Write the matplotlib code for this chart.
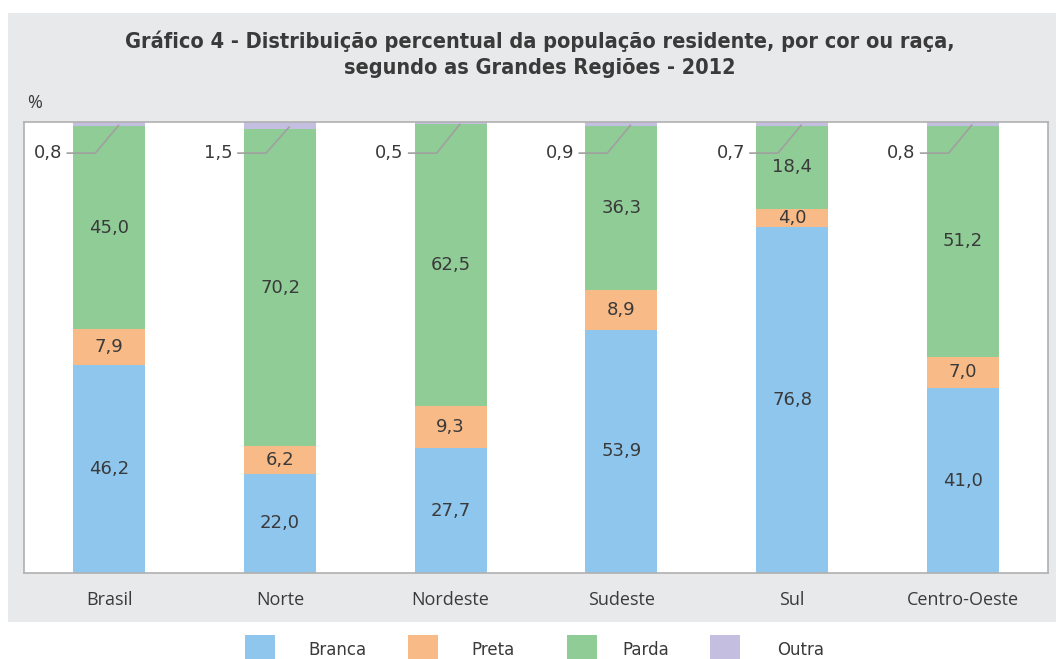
import matplotlib.pyplot as plt
from matplotlib.patches import Rectangle
import numpy as np

regioes = ["Brasil", "Norte", "Nordeste", "Sudeste", "Sul", "Centro-Oeste"]
branca = [46.2, 22.0, 27.7, 53.9, 76.8, 41.0]
preta = [7.9, 6.2, 9.3, 8.9, 4.0, 7.0]
parda = [45.0, 70.2, 62.5, 36.3, 18.4, 51.2]
outra = [0.8, 1.5, 0.5, 0.9, 0.7, 0.8]

series = ["Branca", "Preta", "Parda", "Outra"]
cores = ["#8fc6ee", "#f8ba86", "#8fcc96", "#c4bee0"]

titulo = ("Gráfico 4 - Distribuição percentual da população residente, por cor ou raça,\n"
          "segundo as Grandes Regiões - 2012")

texto = "#3a3a3a"
fundo = "#e8e9eb"

fig = plt.figure(figsize=(10.56, 6.59), dpi=100)
fig.patch.set_facecolor("white")

# gray panel behind title + plot
W, H = 1056, 659
fig.patches.append(Rectangle((8 / W, 1 - 622 / H), 1 - 8 / W, (622 - 13) / H,
                             transform=fig.transFigure, facecolor=fundo,
                             edgecolor="none", zorder=0))

ax = fig.add_axes([24 / W, 1 - 573 / H, (1048 - 24) / W, (573 - 122) / H])
ax.set_facecolor("white")
ax.set_zorder(1)

x = np.arange(len(regioes))
largura = 0.42
dados = [branca, preta, parda, outra]
base = np.zeros(len(regioes))
for nome, vals, cor in zip(series, dados, cores):
    vals = np.array(vals)
    ax.bar(x, vals, largura, bottom=base, color=cor, label=nome, zorder=2)
    if nome != "Outra":
        for xi, b, v in zip(x, base, vals):
            ax.text(xi, b + v / 2, f"{v:.1f}".replace(".", ","), ha="center",
                    va="center", fontsize=13, color=texto, family="DejaVu Sans",
                    zorder=4)
    base = base + vals

# leader lines for "Outra"
topo = base
for xi, t, v in zip(x, topo, outra):
    y_h = 93.1
    ax.plot([xi - 0.246, xi - 0.082, xi + 0.053], [y_h, y_h, t - v / 2 - 0.3],
            color="#a0a0a0", lw=1.2, zorder=3)
    ax.text(xi - 0.275, y_h, f"{v:.1f}".replace(".", ","), ha="right",
            va="center", fontsize=13, color=texto, family="DejaVu Sans")

ax.set_xlim(-0.5, len(regioes) - 0.5)
ax.set_ylim(0, 100)
ax.set_yticks([])
ax.set_xticks(x)
ax.set_xticklabels(regioes, fontsize=13, color=texto, family="Open Sans")
ax.tick_params(axis="x", length=0, pad=13)
for s in ax.spines.values():
    s.set_color("#b0b0b0")
    s.set_linewidth(1.2)

fig.text(540 / W, 1 - 54 / H, titulo, ha="center", va="center", fontsize=15.6,
         fontweight="bold", fontstretch="condensed", color=texto,
         linespacing=1.4, family=["Liberation Sans Narrow", "DejaVu Sans"])
fig.text(27 / W, 1 - 103 / H, "%", ha="left", va="center", fontsize=13,
         color=texto, family="Open Sans")

# legend
leg_sq = [245, 408, 567, 710]
leg_tx = [308, 471, 622, 777]
for nome, cor, xs, xt in zip(series, cores, leg_sq, leg_tx):
    fig.patches.append(Rectangle((xs / W, 0), 30 / W, 24 / H,
                                 transform=fig.transFigure, facecolor=cor,
                                 edgecolor="none"))
    fig.text(xt / W, 1 - 650 / H, nome, ha="left", va="center", fontsize=12,
             color=texto, family=["Liberation Sans Narrow", "DejaVu Sans"])

fig.savefig("out.png", dpi=100, facecolor=fig.get_facecolor())
